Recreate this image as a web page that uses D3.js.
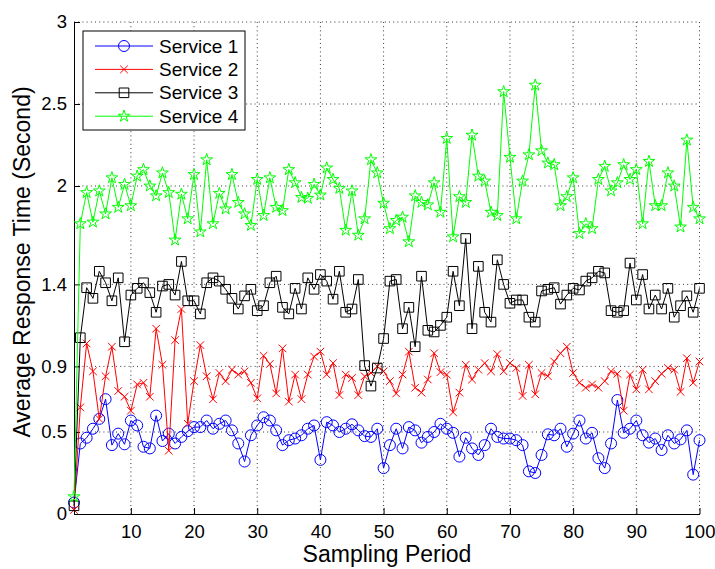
<!DOCTYPE html>
<html>
<head>
<meta charset="utf-8">
<script src="https://cdn.jsdelivr.net/npm/d3@7"></script>
<style>
  body { margin: 0; background: #fff; }
  text { font-family: "Liberation Sans", Arial, Helvetica, sans-serif; fill: #000; }
</style>
</head>
<body>
<svg id="chart" width="715" height="569"></svg>
<script>
// sampling periods 1..100
var periods = d3.range(1, 101);

var service1 = [0.07,0.43,0.465,0.52,0.58,0.70,0.42,0.49,0.425,0.57,
  0.54,0.41,0.40,0.60,0.445,0.49,0.43,0.47,0.505,0.53,
  0.53,0.57,0.52,0.55,0.57,0.51,0.43,0.32,0.48,0.54,
  0.59,0.57,0.51,0.42,0.45,0.46,0.48,0.52,0.54,0.33,
  0.56,0.54,0.50,0.52,0.547,0.51,0.475,0.47,0.52,0.28,
  0.42,0.52,0.40,0.53,0.51,0.435,0.47,0.50,0.55,0.52,
  0.495,0.35,0.465,0.40,0.36,0.42,0.52,0.47,0.46,0.46,
  0.45,0.42,0.26,0.25,0.36,0.486,0.48,0.52,0.41,0.49,
  0.57,0.46,0.495,0.34,0.28,0.43,0.695,0.495,0.52,0.57,
  0.48,0.435,0.46,0.39,0.48,0.43,0.455,0.51,0.24,0.45];

var service2 = [0.025,0.65,1.04,0.87,0.58,0.84,1.02,0.75,0.715,0.63,
  0.79,0.80,0.715,1.13,0.91,0.386,1.06,1.25,0.55,0.81,
  1.03,0.84,0.70,0.86,0.81,0.88,0.85,0.87,0.80,0.705,
  0.965,0.915,0.735,1.01,0.685,0.85,0.70,0.85,0.96,0.99,
  0.85,0.92,0.725,0.85,0.83,0.725,0.84,0.86,0.90,0.87,
  0.81,0.735,0.85,0.99,0.77,0.74,0.82,0.98,0.865,0.85,
  0.62,0.74,0.91,0.82,0.88,0.92,0.87,0.975,0.87,0.92,
  0.89,0.72,0.91,0.73,0.86,0.84,0.93,0.98,1.02,0.86,
  0.80,0.77,0.79,0.77,0.81,0.87,0.855,0.63,0.85,0.76,
  0.88,0.76,0.81,0.855,0.89,0.88,0.745,0.95,0.80,0.93];

var service3 = [0.05,1.075,1.38,1.315,1.48,1.41,1.30,1.44,1.05,1.335,
  1.376,1.41,1.35,1.23,1.39,1.40,1.335,1.54,1.30,1.30,
  1.22,1.41,1.44,1.42,1.37,1.315,1.25,1.33,1.37,1.24,
  1.27,1.41,1.45,1.26,1.22,1.376,1.25,1.44,1.37,1.46,
  1.42,1.31,1.48,1.23,1.25,1.43,0.905,0.78,0.89,1.07,
  1.42,1.43,1.13,1.26,1.02,1.45,1.12,1.11,1.15,1.20,
  1.48,1.27,1.68,1.13,1.51,1.23,1.17,1.55,1.40,1.285,
  1.305,1.305,1.20,1.17,1.36,1.37,1.38,1.28,1.335,1.376,
  1.366,1.42,1.44,1.48,1.47,1.24,1.23,1.24,1.53,1.305,
  1.46,1.25,1.335,1.25,1.376,1.20,1.27,1.33,1.23,1.376];

var service4 = [0.105,1.77,1.96,1.78,1.97,1.83,2.05,1.87,2.01,1.88,
  2.06,2.10,2.00,1.94,2.08,1.96,1.67,1.95,1.80,2.07,
  1.72,2.16,1.77,1.955,1.86,2.07,1.90,1.83,1.76,2.04,
  1.82,2.05,1.87,1.85,2.10,2.02,1.93,1.925,2.01,1.945,
  2.11,2.04,1.985,1.73,1.97,1.70,1.80,2.16,2.08,1.895,
  1.74,1.79,1.81,1.66,1.94,1.90,1.885,2.02,1.84,2.29,
  1.69,1.935,1.90,2.31,2.06,2.03,1.84,1.82,2.575,2.175,
  1.80,2.03,2.19,2.615,2.215,2.14,2.13,1.88,1.935,2.05,
  1.71,1.77,1.74,2.04,2.12,1.97,2.02,2.13,2.04,2.10,
  1.77,2.15,1.88,1.88,2.08,2.00,1.75,2.28,1.87,1.80];

var seriesNames = ["Service 1", "Service 2", "Service 3", "Service 4"];
var seriesColors = ["#0000ff", "#ff0000", "#000000", "#00ff00"];
var seriesMarkers = ["circle", "cross", "square", "star"];
var xTicks = [10, 20, 30, 40, 50, 60, 70, 80, 90, 100];
var yTicks = [0, 0.5, 0.9, 1.4, 2, 2.5, 3];
var yTickLabels = ["0", "0.5", "0.9", "1.4", "2", "2.5", "3"];

var _margin = {top: 22, right: 15.5, bottom: 55, left: 74},
    _width = 715 - _margin.left - _margin.right,
    _height = 569 - _margin.top - _margin.bottom;

var _svg = d3.select("#chart");
var _g = _svg.append("g")
  .attr("transform", "translate(" + _margin.left + "," + _margin.top + ")");

var _x = d3.scaleLinear().domain([1, 100]).range([0, _width]);
var _y = d3.scaleLinear().domain([0, 3]).range([_height, 0]);

// marker shapes, matlab style (outline only)
function markerPath(type) {
  if (type == "circle") return "M5.5,0A5.5,5.5 0 1,1 -5.5,0A5.5,5.5 0 1,1 5.5,0Z";
  if (type == "square") return "M-4.8,-4.8H4.8V4.8H-4.8Z";
  if (type == "cross") return "M-3.8,-3.8L3.8,3.8M-3.8,3.8L3.8,-3.8";
  var p = [], R = 6.2, r = R * 0.382;
  for (var k = 0; k < 10; k++) {
    var a = -Math.PI / 2 + k * Math.PI / 5, rr = k % 2 ? r : R;
    p.push([rr * Math.cos(a), rr * Math.sin(a)]);
  }
  return "M" + p.join("L") + "Z";
}

// grid
_g.append("g").attr("class", "grid")
  .selectAll("line").data(xTicks).enter().append("line")
  .attr("x1", function(d) { return _x(d); })
  .attr("x2", function(d) { return _x(d); })
  .attr("y1", 0).attr("y2", _height);
_g.select(".grid")
  .selectAll("line.h").data(yTicks.slice(1)).enter().append("line")
  .attr("class", "h")
  .attr("x1", 0).attr("x2", _width)
  .attr("y1", function(d) { return _y(d); })
  .attr("y2", function(d) { return _y(d); });
_g.selectAll(".grid line")
  .attr("stroke", "#222")
  .attr("stroke-width", 0.9)
  .attr("stroke-dasharray", "1,3.2");

// axes
var xAxis = _g.append("g")
  .attr("transform", "translate(0," + _height + ")")
  .call(d3.axisBottom(_x).tickValues(xTicks).tickSizeInner(-6).tickSizeOuter(0).tickPadding(11));
var yAxis = _g.append("g")
  .call(d3.axisLeft(_y).tickValues(yTicks).tickFormat(function(d, i) { return yTickLabels[i]; })
    .tickSizeInner(-6).tickSizeOuter(0).tickPadding(7));
_g.selectAll(".domain, .tick line").attr("stroke", "#000").attr("stroke-width", 1);
_g.selectAll(".tick text")
  .style("font-size", "18.5px")
  .attr("font-family", null);

_svg.append("text")
  .attr("x", 387)
  .attr("y", 562)
  .attr("text-anchor", "middle")
  .style("font-size", "23px")
  .text("Sampling Period");

_svg.append("text")
  .attr("transform", "translate(29.5,262) rotate(-90)")
  .attr("text-anchor", "middle")
  .style("font-size", "23px")
  .text("Average Response Time (Second)");

// series
var allSeries = [service1, service2, service3, service4];
var line = d3.line()
  .x(function(d, i) { return _x(periods[i]); })
  .y(function(d) { return _y(d); });

allSeries.forEach(function(values, s) {
  var sg = _g.append("g").attr("class", "series s" + (s + 1));
  sg.append("path")
    .attr("d", line(values))
    .attr("fill", "none")
    .attr("stroke", seriesColors[s])
    .attr("stroke-width", 1);
  sg.selectAll(".mark").data(values).enter().append("path")
    .attr("class", "mark")
    .attr("transform", function(d, i) { return "translate(" + _x(periods[i]) + "," + _y(d) + ")"; })
    .attr("d", markerPath(seriesMarkers[s]))
    .attr("fill", "none")
    .attr("stroke", seriesColors[s])
    .attr("stroke-width", 1);
});

// legend
var legend = _svg.append("g").attr("transform", "translate(83,31)");
legend.append("rect")
  .attr("width", 162).attr("height", 99)
  .attr("fill", "#fff").attr("stroke", "#000").attr("stroke-width", 1);
legend.selectAll(".item").data(seriesNames).enter().append("g")
  .attr("class", "item")
  .attr("transform", function(d, i) { return "translate(0," + (15 + i * 23.4) + ")"; })
  .each(function(d, i) {
    var it = d3.select(this);
    it.append("line").attr("x1", 12).attr("x2", 70)
      .attr("stroke", seriesColors[i]).attr("stroke-width", 1);
    it.append("path").attr("transform", "translate(41,0)")
      .attr("d", markerPath(seriesMarkers[i]))
      .attr("fill", "none").attr("stroke", seriesColors[i]).attr("stroke-width", 1);
    it.append("text").attr("x", 76).attr("dy", "0.35em")
      .style("font-size", "19px").text(d);
  });
</script>
</body>
</html>
